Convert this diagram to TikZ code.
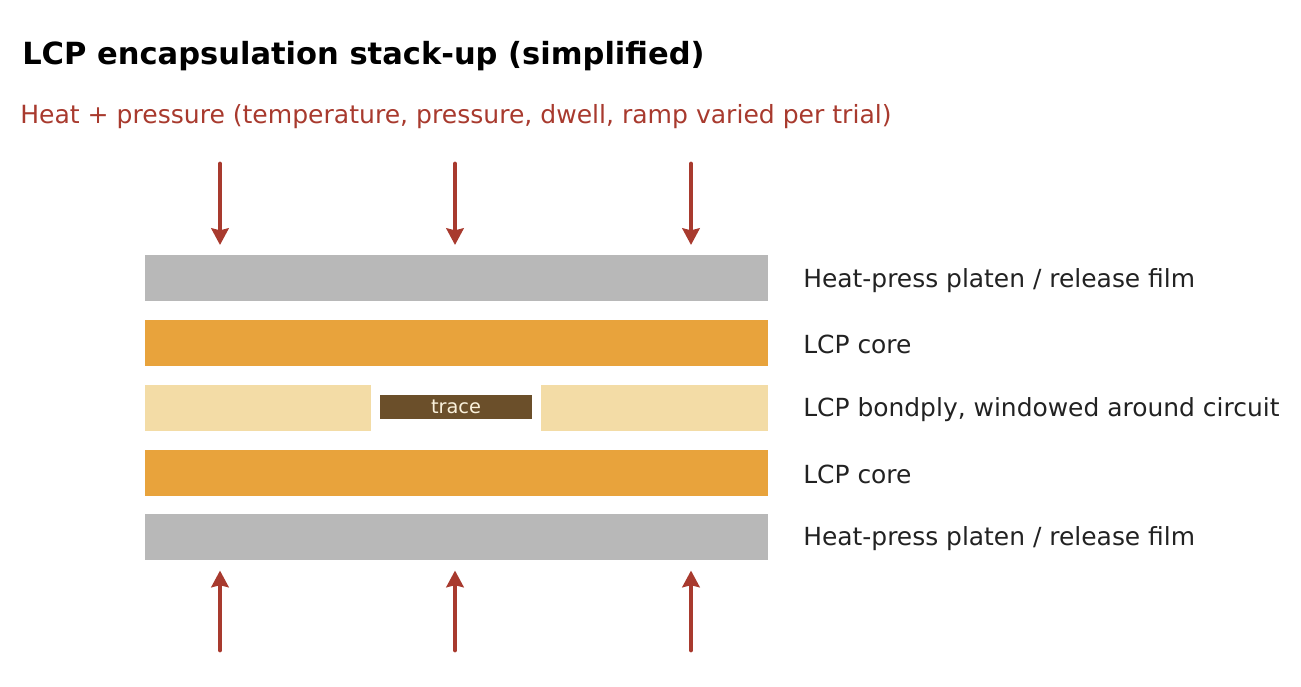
\documentclass[tikz,border=0pt]{standalone}
\usepackage{fontspec}
\setmainfont{DejaVu Sans}
\usetikzlibrary{arrows.meta}

\definecolor{platen}{HTML}{B8B8B8}
\definecolor{core}{HTML}{E8A33C}
\definecolor{bondply}{HTML}{F3DCA6}
\definecolor{tracec}{HTML}{6B4F2A}
\definecolor{press}{HTML}{A83A2E}
\definecolor{labelc}{HTML}{222222}

\tikzset{
    layer/.style={shape=rectangle, inner sep=0pt, anchor=north west, minimum height=34.5pt},
    layerlbl/.style={anchor=west, inner sep=0pt, text=labelc, font=\fontsize{18.7}{22}\selectfont},
    pressarrow/.style={press, line width=3.6pt, line cap=round, -{Stealth[length=12.5pt, width=13pt, inset=1.5pt]}, shorten >=7.5pt}
}

\begin{document}
\begin{tikzpicture}[x=0.75pt, y=-0.75pt]
    \useasboundingbox (0,0) rectangle (1301,686);
    \node[anchor=base west, inner sep=0pt, font=\bfseries\fontsize{22.9}{27}\selectfont] (title) at (22,64) {LCP encapsulation stack-up (simplified)};
    \node[anchor=west, inner sep=0pt, text=press, font=\fontsize{18.8}{22}\selectfont] (subtitle) at (20,117) {Heat + pressure (temperature, pressure, dwell, ramp varied per trial)};

    \node[layer, fill=platen, minimum width=467.25pt] (platenT) at (145,255) {};
    \node[layer, fill=core, minimum width=467.25pt] (coreT) at (145,320) {};
    \node[layer, fill=bondply, minimum width=169.5pt] (bondL) at (145,385) {};
    \node[layer, fill=bondply, minimum width=170.25pt] (bondR) at (541,385) {};
    \node[shape=rectangle, fill=tracec, inner sep=0pt, minimum width=114pt, minimum height=18pt, text={bondply!40!white}, font=\fontsize{14.5}{16}\selectfont] (trace) at (456,407) {\raisebox{-0.5pt}{trace}};
    \node[layer, fill=core, minimum width=467.25pt] (coreB) at (145,449.5) {};
    \node[layer, fill=platen, minimum width=467.25pt] (platenB) at (145,514) {};

    \node[layerlbl] (lblPlatenT) at (803,281) {Heat-press platen / release film};
    \node[layerlbl] (lblCoreT) at (803,344) {LCP core};
    \node[layerlbl] (lblBond) at (803,410) {LCP bondply, windowed around circuit};
    \node[layerlbl] (lblCoreB) at (803,474) {LCP core};
    \node[layerlbl] (lblPlatenB) at (803,539) {Heat-press platen / release film};

    \foreach \ax [count=\i] in {220,455,691} {
        \coordinate (top\i) at (\ax,164);
        \coordinate (bot\i) at (\ax,650);
        \draw[pressarrow] (top\i) -- (top\i |- platenT.north);
        \draw[pressarrow] (bot\i) -- (bot\i |- platenB.south);
    }
\end{tikzpicture}
\end{document}
